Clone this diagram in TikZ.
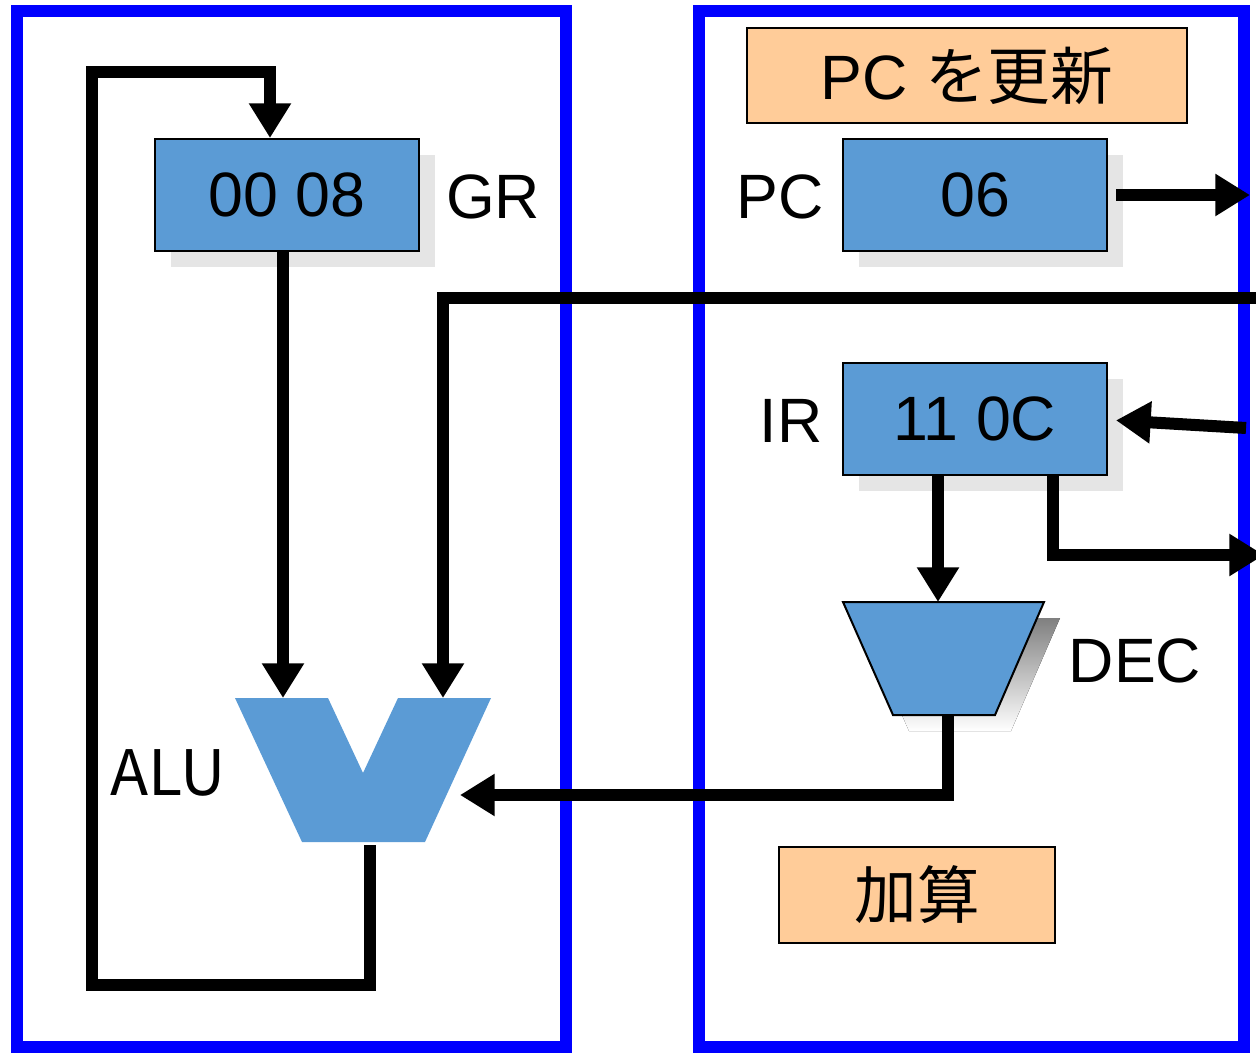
\documentclass[tikz,border=0pt]{standalone}
\usepackage{fontspec}
\setmainfont{Liberation Sans}
\newfontfamily\cjk{Noto Sans CJK JP}
\usetikzlibrary{arrows.meta,shadows}
\definecolor{regblue}{HTML}{5B9BD5}
\definecolor{peach}{HTML}{FFCC99}
\definecolor{shade}{HTML}{E5E5E5}
\definecolor{frameblue}{HTML}{0000FF}
\tikzset{
  bigfont/.style={font=\fontsize{47}{50}\selectfont},
  reg/.style={draw=black, line width=1.5pt, fill=regblue, minimum width=198pt, minimum height=84pt,
    inner sep=0pt, bigfont, drop shadow={shadow xshift=12pt, shadow yshift=-12pt, fill=shade, opacity=1}},
  notebox/.style={draw=black, line width=1.5pt, fill=peach, inner sep=0pt, bigfont},
  lbl/.style={bigfont, inner sep=0pt},
  wire/.style={line width=9pt},
  arr/.style={wire, -{Triangle[length=26pt,width=30pt]}},
  frame/.style={draw=frameblue, line width=9pt},
}
\begin{document}
\begin{tikzpicture}[x=0.75pt,y=-0.75pt]
\useasboundingbox (0,0) rectangle (1256,1055);
\clip (0,0) rectangle (1256,1055);
% frames
\draw[frame] (17,11) rectangle (566,1047);
\draw[frame] (699,11) rectangle (1244,1047);

% registers
\node[reg] (GR) at (287,195) {00 08};
\node[reg] (PC) at (975,195) {06};
\node[reg] (IR) at (975,419) {11 0C};
\node[lbl] (GRl) at (493,197) {GR};
\node[lbl] (PCl) at (780,197) {PC};
\node[lbl] (IRl) at (791,421) {IR};

% notes
\node[notebox, minimum width=330pt, minimum height=71pt] (upd) at (967,75.5) {PC {\cjk を更新}};
\node[notebox, minimum width=207pt, minimum height=72pt] (add) at (917,895) {\cjk 加算};

% DEC
\fill[shade] (859,618) -- (1060,618) -- (1011,731) -- (909,731) -- cycle;
\filldraw[fill=regblue, draw=black, line width=1.5pt] (843,602) -- (1044,602) -- (995,715) -- (893,715) -- cycle;
\coordinate (dectop) at (938,602);
\coordinate (decbot) at (948,715);
\node[lbl] (DECl) at (1135,661) {DEC};

% ALU
\fill[regblue] (235,698) -- (328,698) -- (363,773) -- (398,698) -- (491,698) -- (425,842) -- (302,842) -- cycle;
\coordinate (alu1) at (283,698);
\coordinate (alu2) at (443,698);
\coordinate (aluR) at (460,795);
\coordinate (alub) at (370,845);
\node[bigfont, inner sep=0pt] (ALUl) at (168,773) {\cjk ALU};

% connectors
\coordinate (fb1) at (370,985);
\coordinate (fb2) at (92,985);
\coordinate (fb3) at (92,72);
\coordinate (fb4) at (270,72);
\draw[arr] (alub) -- (fb1) -- (fb2) -- (fb3) -- (fb4) -- (fb4 |- GR.north);
\draw[arr] (alu1 |- GR.south) -- (alu1);
\coordinate (busR) at (1262,298);
\draw[arr] (busR) -| (alu2);
\coordinate (pcout) at (1250,195);
\draw[arr] ([xshift=6pt]PC.east) -- (pcout);
\coordinate (irin) at (1246,428);
\draw[arr] (irin) -- ([xshift=6pt,yshift=-1pt]IR.east);
\coordinate (irdec) at (938,475);
\draw[arr] (irdec |- IR.south) -- (dectop);
\coordinate (irop) at (1053,475);
\coordinate (out2) at (1264,555);
\draw[arr] (irop |- IR.south) |- (out2);
\draw[arr] (decbot) |- (aluR);
\end{tikzpicture}
\end{document}
